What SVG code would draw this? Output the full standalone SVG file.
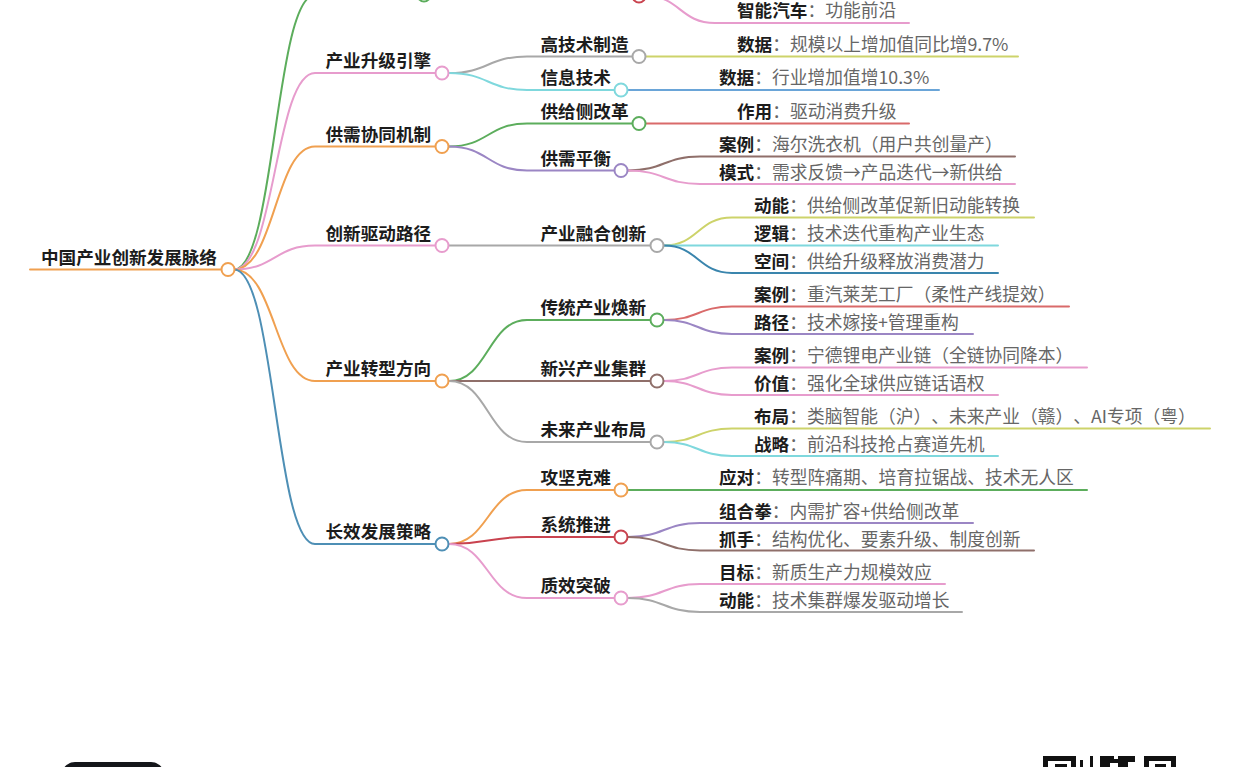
<svg xmlns="http://www.w3.org/2000/svg" width="1239" height="767" viewBox="0 0 1239 767">
<style>
text{font-family:"Noto Sans CJK SC","Liberation Sans",sans-serif;font-size:17.600px;fill:#222;text-spacing-trim:space-all}
.b,.k{font-weight:700;fill:#1c1c1c}
.v{fill:#666;font-size:17.750px}
path{fill:none;stroke-width:2;stroke-linecap:round}
circle{fill:#fff;stroke-width:2}
.o{stroke:#f0a050}.g{stroke:#5cad5c}.p{stroke:#e79ccd}.bl{stroke:#4e8fb5}.gr{stroke:#a8a8a8}.c{stroke:#7fd8dd}.r{stroke:#d96a6a}.pu{stroke:#9b86c4}.br{stroke:#8f6f6a}.y{stroke:#cdd36a}.lb{stroke:#6aa5d8}.dr{stroke:#c9434f}.db{stroke:#3a85ad}
</style>
<rect width="1239" height="767" fill="#fff"/>
<g id="connectors">
<path class="o" d="M30 269.500H228"/>
<path class="g" d="M234 269.500C275 269.500 275 -5 315 -5H424"/>
<path class="p" d="M234 269.500C275 269.500 275 73 315 73H442"/>
<path class="o" d="M234 269.500C275 269.500 275 146.500 315 146.500H442"/>
<path class="p" d="M234 269.500C275 269.500 275 245.500 315 245.500H442"/>
<path class="o" d="M234 269.500C275 269.500 275 381 315 381H442"/>
<path class="bl" d="M234 269.500C275 269.500 275 544 315 544H442"/>
<path class="gr" d="M449 73C488 73 488 56.500 527 56.500H639"/>
<path class="c" d="M449 73C488 73 488 90 527 90H621"/>
<path class="g" d="M449 146.500C488 146.500 488 123.500 527 123.500H639"/>
<path class="pu" d="M449 146.500C488 146.500 488 170.500 527 170.500H621"/>
<path class="gr" d="M449 245.500H657"/>
<path class="g" d="M449 381C488 381 488 320 527 320H657"/>
<path class="br" d="M449 381H657"/>
<path class="gr" d="M449 381C488 381 488 442 527 442H657"/>
<path class="o" d="M449 544C488 544 488 490 527 490H621"/>
<path class="dr" d="M449 544C488 544 488 537 527 537H621"/>
<path class="p" d="M449 544C488 544 488 598 527 598H621"/>
<path class="y" d="M639 56.500H1018"/>
<path class="lb" d="M621 90H939"/>
<path class="r" d="M639 123.500H909"/>
<path class="br" d="M628 170.500C664 170.500 664 156.500 700 156.500H1015"/>
<path class="p" d="M628 170.500C664 170.500 664 184 700 184H1015"/>
<path class="p" d="M646 -4C680 -4 680 23 715 23H909"/>
<path class="y" d="M664 245.500C698 245.500 698 217.500 732 217.500H1034"/>
<path class="c" d="M664 245.500H998"/>
<path class="db" d="M664 245.500C698 245.500 698 273 732 273H998"/>
<path class="r" d="M664 320C698 320 698 306.500 732 306.500H1069"/>
<path class="pu" d="M664 320C698 320 698 334 732 334H973"/>
<path class="p" d="M664 381C698 381 698 367.500 732 367.500H1087"/>
<path class="p" d="M664 381C698 381 698 395 732 395H998"/>
<path class="y" d="M664 442C698 442 698 428.500 732 428.500H1210"/>
<path class="c" d="M664 442C698 442 698 456 732 456H998"/>
<path class="g" d="M628 490H1087"/>
<path class="pu" d="M628 537C664 537 664 523 700 523H973"/>
<path class="br" d="M628 537C664 537 664 550.500 700 550.500H1034"/>
<path class="p" d="M628 598C664 598 664 584 700 584H945"/>
<path class="gr" d="M628 598C664 598 664 612 700 612H962"/>
</g>
<g id="root"><text class="b" x="41" y="263.500">中国产业创新发展脉络</text><circle class="o" cx="228" cy="269.500" r="6.500"/></g>
<g id="n1"><circle class="g" cx="424" cy="-5" r="6.500"/></g>
<g id="n2"><text class="b" x="325.500" y="67">产业升级引擎</text><circle class="p" cx="442" cy="73" r="6.500"/></g>
<g id="n3"><text class="b" x="325.500" y="140.500">供需协同机制</text><circle class="o" cx="442" cy="146.500" r="6.500"/></g>
<g id="n4"><text class="b" x="325.500" y="239.500">创新驱动路径</text><circle class="p" cx="442" cy="245.500" r="6.500"/></g>
<g id="n5"><text class="b" x="325.500" y="375">产业转型方向</text><circle class="o" cx="442" cy="381" r="6.500"/></g>
<g id="n6"><text class="b" x="325.500" y="538">长效发展策略</text><circle class="bl" cx="442" cy="544" r="6.500"/></g>
<g id="n1a"><circle class="dr" cx="639" cy="-4" r="6.500"/></g>
<g id="n2a"><text class="b" x="540.500" y="50.500">高技术制造</text><circle class="gr" cx="639" cy="56.500" r="6.500"/></g>
<g id="n2b"><text class="b" x="540.500" y="83.500">信息技术</text><circle class="c" cx="621" cy="90" r="6.500"/></g>
<g id="n3a"><text class="b" x="540.500" y="117.500">供给侧改革</text><circle class="g" cx="639" cy="123.500" r="6.500"/></g>
<g id="n3b"><text class="b" x="540.500" y="164.500">供需平衡</text><circle class="pu" cx="621" cy="170.500" r="6.500"/></g>
<g id="n4a"><text class="b" x="540.500" y="239.500">产业融合创新</text><circle class="gr" cx="657" cy="245.500" r="6.500"/></g>
<g id="n5a"><text class="b" x="540.500" y="314">传统产业焕新</text><circle class="g" cx="657" cy="320" r="6.500"/></g>
<g id="n5b"><text class="b" x="540.500" y="375">新兴产业集群</text><circle class="br" cx="657" cy="381" r="6.500"/></g>
<g id="n5c"><text class="b" x="540.500" y="436">未来产业布局</text><circle class="gr" cx="657" cy="442" r="6.500"/></g>
<g id="n6a"><text class="b" x="540.500" y="484">攻坚克难</text><circle class="o" cx="621" cy="490" r="6.500"/></g>
<g id="n6b"><text class="b" x="540.500" y="531">系统推进</text><circle class="dr" cx="621" cy="537" r="6.500"/></g>
<g id="n6c"><text class="b" x="540.500" y="592">质效突破</text><circle class="p" cx="621" cy="598" r="6.500"/></g>
<g id="leaves">
<text x="737" y="17"><tspan class="k">智能汽车</tspan><tspan class="v">：功能前沿</tspan></text>
<text x="737" y="50.500"><tspan class="k">数据</tspan><tspan class="v">：规模以上增加值同比增9.7%</tspan></text>
<text x="719" y="84"><tspan class="k">数据</tspan><tspan class="v">：行业增加值增10.3%</tspan></text>
<text x="737" y="117.500"><tspan class="k">作用</tspan><tspan class="v">：驱动消费升级</tspan></text>
<text x="719" y="150.500"><tspan class="k">案例</tspan><tspan class="v">：海尔洗衣机（用户共创量产）</tspan></text>
<text x="719" y="178.500"><tspan class="k">模式</tspan><tspan class="v">：需求反馈→产品迭代→新供给</tspan></text>
<text x="754" y="211.500"><tspan class="k">动能</tspan><tspan class="v">：供给侧改革促新旧动能转换</tspan></text>
<text x="754" y="239.500"><tspan class="k">逻辑</tspan><tspan class="v">：技术迭代重构产业生态</tspan></text>
<text x="754" y="267.500"><tspan class="k">空间</tspan><tspan class="v">：供给升级释放消费潜力</tspan></text>
<text x="754" y="300.500"><tspan class="k">案例</tspan><tspan class="v">：重汽莱芜工厂（柔性产线提效）</tspan></text>
<text x="754" y="328.500"><tspan class="k">路径</tspan><tspan class="v">：技术嫁接+管理重构</tspan></text>
<text x="754" y="361.500"><tspan class="k">案例</tspan><tspan class="v">：宁德锂电产业链（全链协同降本）</tspan></text>
<text x="754" y="389.500"><tspan class="k">价值</tspan><tspan class="v">：强化全球供应链话语权</tspan></text>
<text x="754" y="422.500"><tspan class="k">布局</tspan><tspan class="v">：类脑智能（沪）、未来产业（赣）、AI专项（粤）</tspan></text>
<text x="754" y="450.500"><tspan class="k">战略</tspan><tspan class="v">：前沿科技抢占赛道先机</tspan></text>
<text x="719" y="484"><tspan class="k">应对</tspan><tspan class="v">：转型阵痛期、培育拉锯战、技术无人区</tspan></text>
<text x="719" y="517.500"><tspan class="k">组合拳</tspan><tspan class="v">：内需扩容+供给侧改革</tspan></text>
<text x="719" y="545.500"><tspan class="k">抓手</tspan><tspan class="v">：结构优化、要素升级、制度创新</tspan></text>
<text x="719" y="578.500"><tspan class="k">目标</tspan><tspan class="v">：新质生产力规模效应</tspan></text>
<text x="719" y="606.500"><tspan class="k">动能</tspan><tspan class="v">：技术集群爆发驱动增长</tspan></text>
</g>
<rect x="63" y="762" width="100" height="20" rx="12" fill="#14161a"/>
<g fill="#111">
<path fill-rule="evenodd" style="fill:#111;stroke:none" d="M1043 756H1076V767H1043ZM1048 761V767H1071V761ZM1144 756H1176V767H1144ZM1149 761V767H1171V761Z"/>
<rect x="1055" y="764" width="12" height="3"/><rect x="1155" y="764" width="11" height="3"/>
<rect x="1080" y="760" width="3" height="7"/><rect x="1090" y="756" width="3" height="11"/>
<path style="fill:#111;stroke:none" d="M1100 756H1114V759H1118V756H1135V762H1128V767H1118V763H1110V767H1100Z"/>
</g>
</svg>
